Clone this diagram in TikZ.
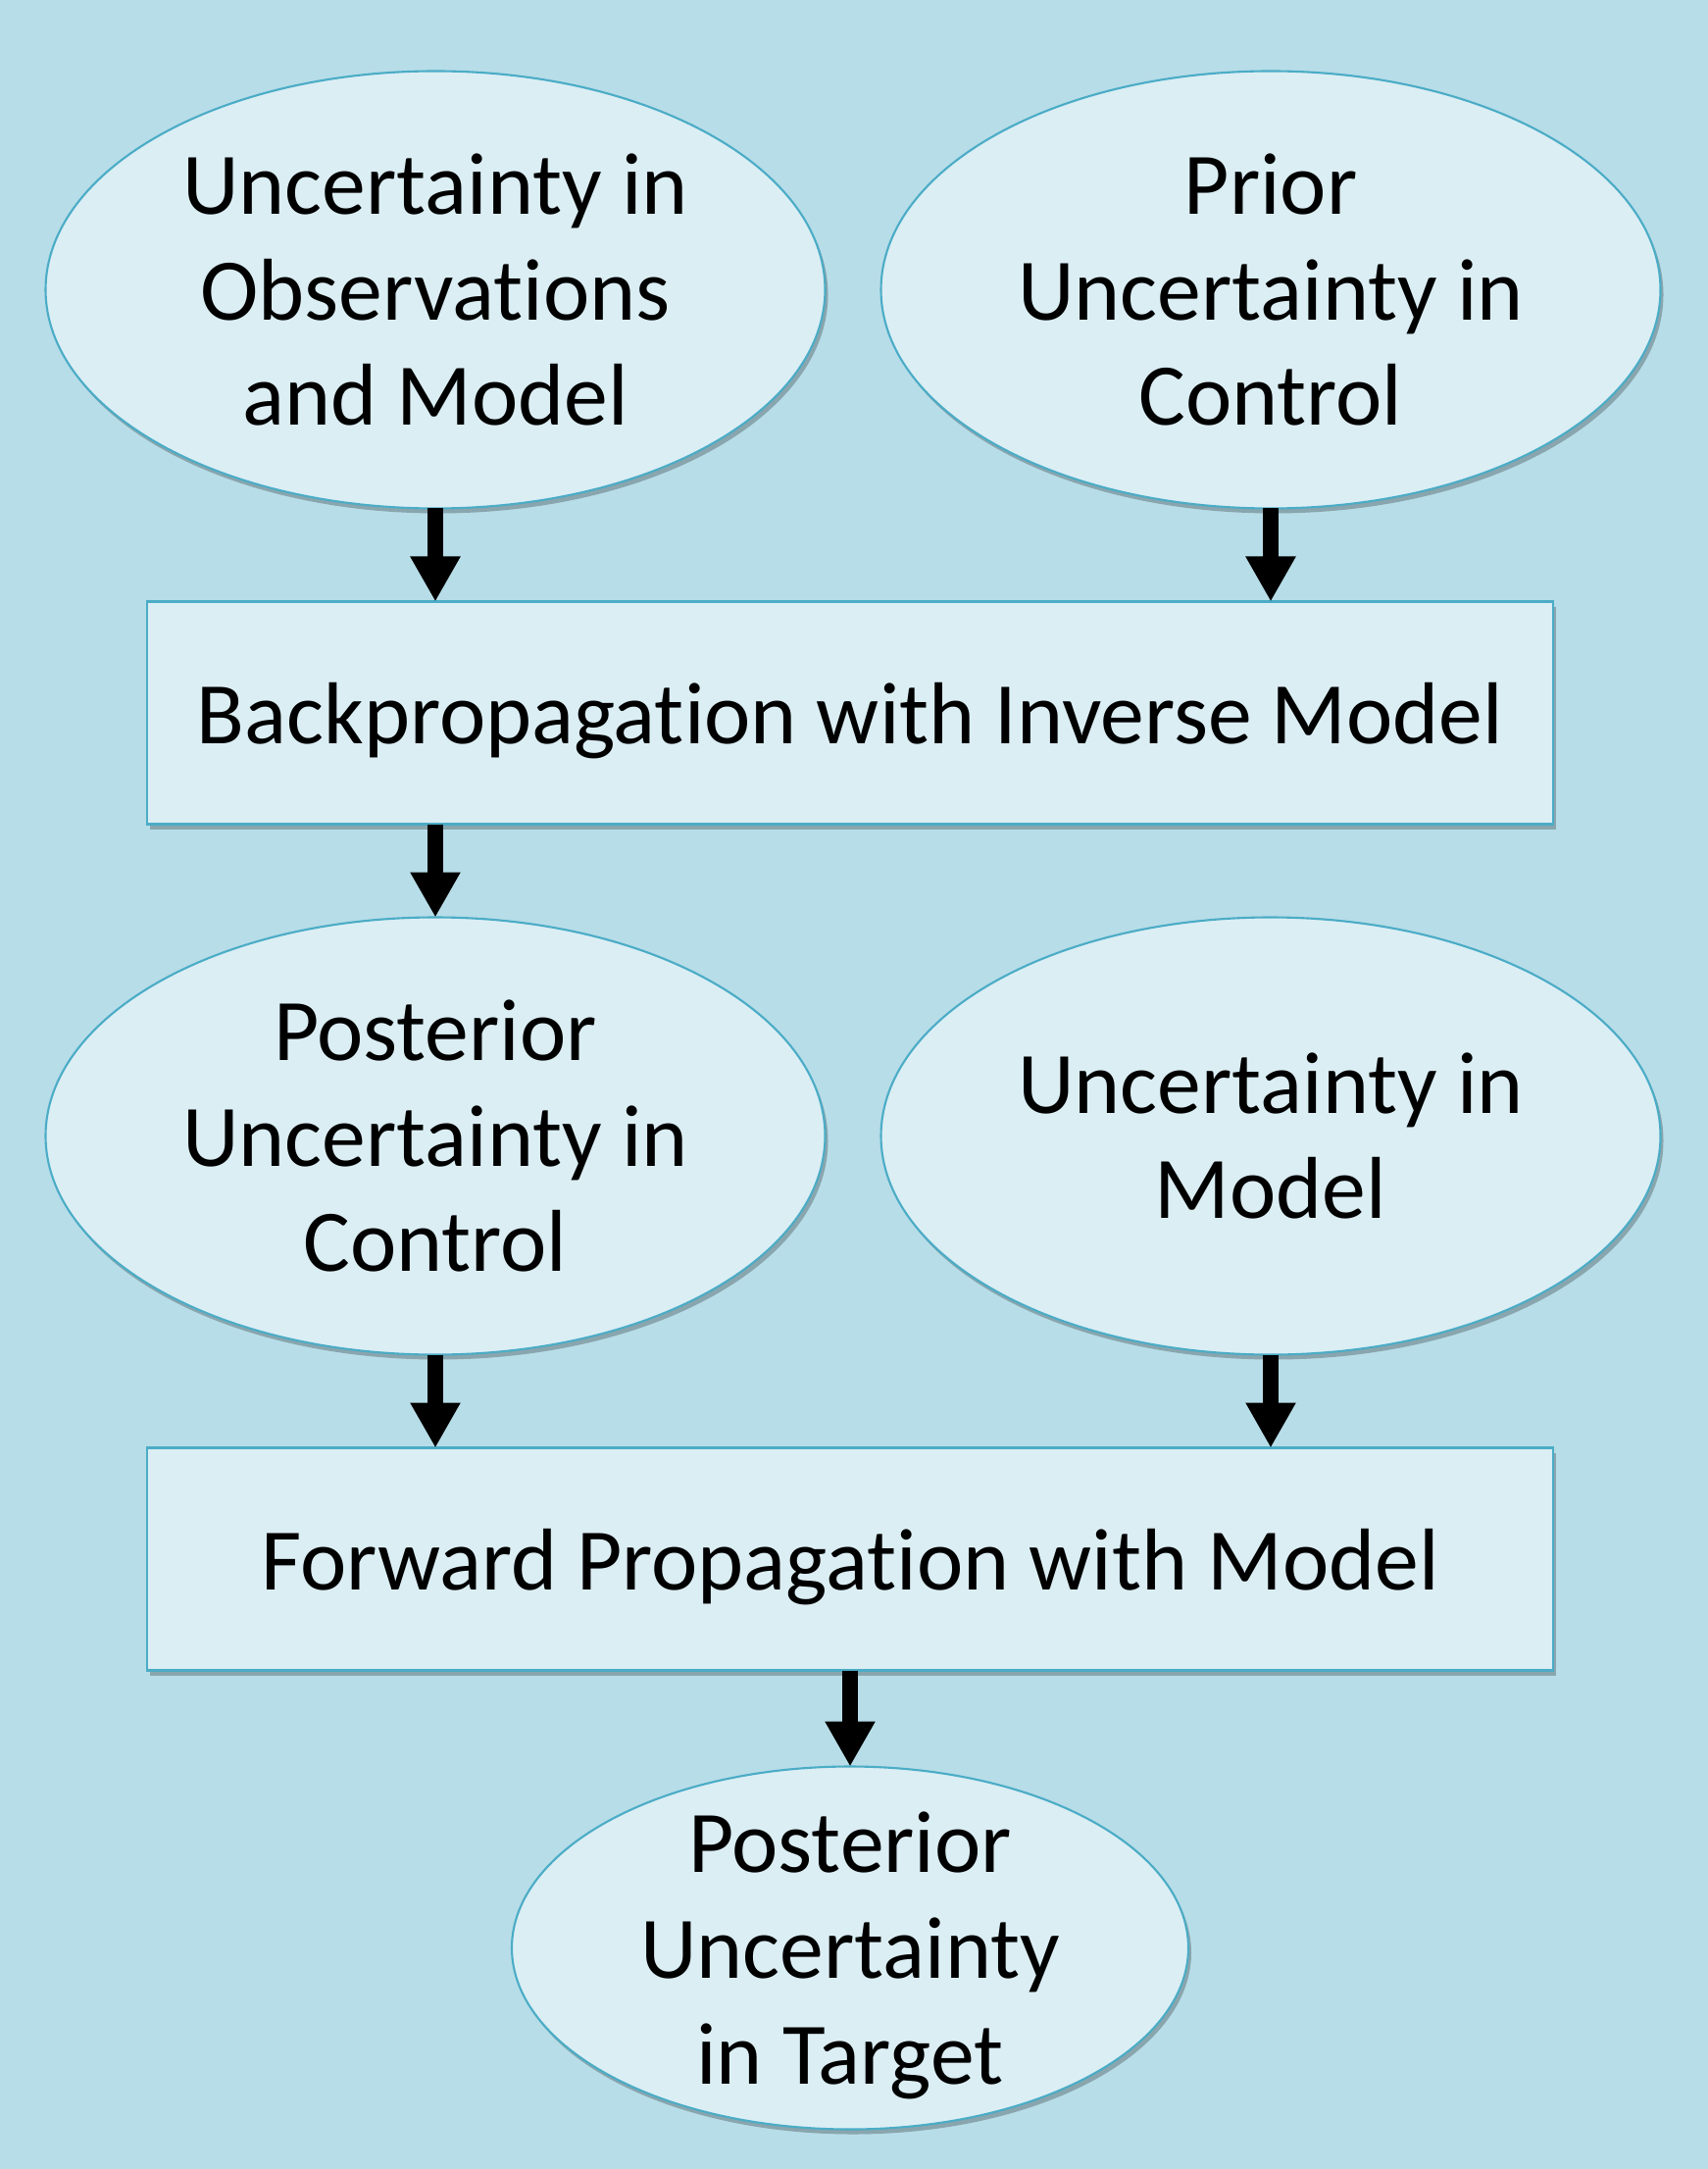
\documentclass[tikz,border=0pt]{standalone}
\usepackage{fontspec}
\setmainfont{Carlito}[Ligatures=NoCommon]
\usepackage{tikz}
\usetikzlibrary{positioning,shapes,shadows,arrows.meta}
\definecolor{bgblue}{HTML}{B7DDE8}
\definecolor{boxfill}{HTML}{DBEEF4}
\definecolor{boxline}{HTML}{4BACC6}

\begin{document}
\begin{tikzpicture}[auto, node distance=0.95cm]
				\tikzstyle{boxshadow} = [drop shadow={shadow xshift=0.03cm, shadow yshift=-0.05cm, fill=black, opacity=0.25}];
				\tikzstyle{quantity} = [ellipse, draw=boxline, line width=0.6pt, fill=boxfill, boxshadow, align=center, inner sep=-2mm, outer sep=0pt, minimum width=7.95cm, minimum height=4.46cm, font=\fontsize{25.5}{30.7}\selectfont];
				\tikzstyle{process} = [rectangle, draw=boxline, line width=0.6pt, fill=boxfill, boxshadow, align=center, outer sep=0pt, text depth=0pt, minimum width=14.34cm, minimum height=2.27cm, font=\fontsize{25.5}{30.7}\selectfont];
				\tikzstyle{flow} = [draw=black, line width=0.16cm, -{Triangle[width=0.48cm, length=0.46cm]}];
				
				\fill[bgblue] (0,0) rectangle (17.42,-22.12);
				\useasboundingbox (0,0) rectangle (17.42,-22.12);
				
				\node[process](backprop) at (8.67,-7.27){Backpropagation with Inverse Model};
				\node[quantity, above = of backprop, xshift=-4.23cm](obsmodel){Uncertainty in \\ Observations \\ and Model};
				\node[quantity, above = of backprop, xshift=4.29cm](priorctrl){Prior \\ Uncertainty in \\ Control};
				\node[quantity, below = of backprop, xshift=-4.23cm](postctrl){Posterior \\ Uncertainty in \\ Control};
				\node[quantity, below = of backprop, xshift=4.29cm](model){Uncertainty in \\ Model};
				\node[process, below = 6.36cm of backprop](forward){Forward Propagation with Model};
				\node[quantity, text depth=0pt, below = 0.98cm of forward, minimum width=6.9cm, minimum height=3.7cm](target){Posterior \\ Uncertainty \\ in Target};
				
				\draw[flow] (obsmodel.south) -- (obsmodel.south |- backprop.north);
				\draw[flow] (priorctrl.south) -- (priorctrl.south |- backprop.north);
				\draw[flow] (backprop.south -| postctrl.north) -- (postctrl.north);
				\draw[flow] (postctrl.south) -- (postctrl.south |- forward.north);
				\draw[flow] (model.south) -- (model.south |- forward.north);
				\draw[flow] (forward.south) -- (forward.south |- target.north);
			\end{tikzpicture}
\end{document}
